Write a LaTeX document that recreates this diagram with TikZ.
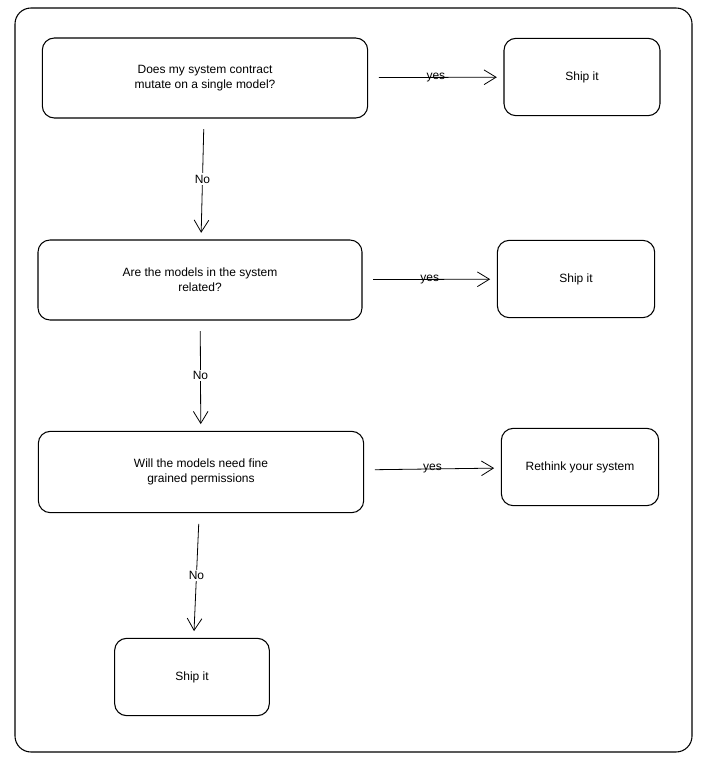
\documentclass[tikz,border=0pt]{standalone}
\usepackage{fontspec}
\setmainfont{Liberation Sans}
\usetikzlibrary{arrows.meta}

\begin{document}
\begin{tikzpicture}[x=0.75pt, y=-0.75pt,
        box/.style={draw, rounded corners=9pt, thick, align=center, font=\small, inner sep=0pt},
        flow/.style={-{Straight Barb[length=9pt, width=11pt]}, semithick, shorten <=8pt, shorten >=5pt},
        lbl/.style={font=\small, inner sep=1pt}]
    \useasboundingbox (0,0) rectangle (703,762);
    \draw[thick, rounded corners=12pt] (15,8) rectangle (692,752);

    \node[box, minimum width=244pt, minimum height=60pt] (q1) at (205,78) {Does my system contract\\mutate on a single model?};
    \node[box, minimum width=117pt, minimum height=58pt] (s1) at (582,77) {Ship it};
    \node[box, minimum width=243pt, minimum height=60pt] (q2) at (200,280) {Are the models in the system\\related?};
    \node[box, minimum width=118pt, minimum height=58pt] (s2) at (576,279) {Ship it};
    \node[box, minimum width=244pt, minimum height=61pt] (q3) at (201,472) {Will the models need fine\\grained permissions};
    \node[box, minimum width=118pt, minimum height=58pt] (s3) at (580,467) {Rethink your system};
    \node[box, minimum width=116pt, minimum height=58pt] (s4) at (192,677) {Ship it};

    \draw[flow] (q1) -- node[lbl] {yes} (s1);
    \draw[flow] (q2) -- node[lbl] {yes} (s2);
    \draw[flow] (q3) -- node[lbl] {yes} (s3);
    \draw[flow] (q1) -- node[lbl, fill=white] {No} (q2);
    \draw[flow] (q2) -- node[lbl, fill=white] {No} (q3);
    \draw[flow] (q3) -- node[lbl, fill=white] {No} (s4);
\end{tikzpicture}
\end{document}
